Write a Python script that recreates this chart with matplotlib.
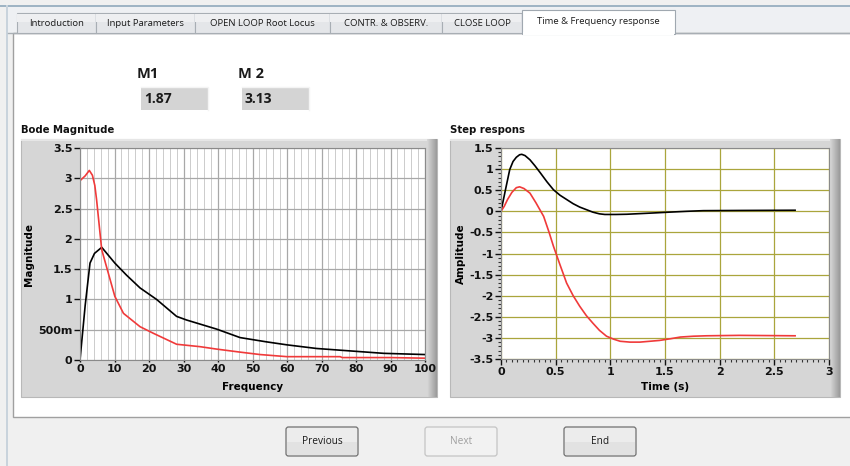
import numpy as np
import matplotlib
matplotlib.use("Agg")
import matplotlib.pyplot as plt
from matplotlib.patches import Rectangle, FancyBboxPatch
from matplotlib.ticker import MultipleLocator

plt.rcParams["font.family"] = ["DejaVu Sans"]

# ---- data ----
tab_names = ["Introduction", "Input Parameters", "OPEN LOOP Root Locus",
             "CONTR. & OBSERV.", "CLOSE LOOP", "Time & Frequency response"]
m_labels = ["M1", "M 2"]
m_values = ["1.87", "3.13"]
button_names = ["Previous", "Next", "End"]

bode_freq_black = [0, 1.5, 2.9, 4.2, 6.3, 10.1, 13.5, 17.4, 22.2, 28, 30.9,
                   39.6, 46.4, 54, 60, 68.6, 78.3, 88, 100]
bode_mag_black = [0, 0.9, 1.6, 1.76, 1.86, 1.6, 1.4, 1.19, 1.0, 0.72, 0.66,
                  0.51, 0.37, 0.30, 0.25, 0.19, 0.15, 0.11, 0.09]
bode_freq_red = [0, 1.5, 2.7, 3.6, 4.3, 4.8, 6.3, 10.1, 12.6, 17.4, 21.3, 28,
                 34.8, 39.6, 46.4, 52.2, 60, 75.4, 76, 90, 100]
bode_mag_red = [2.96, 3.04, 3.13, 3.05, 2.88, 2.65, 1.82, 1.05, 0.77, 0.55,
                0.44, 0.26, 0.22, 0.18, 0.13, 0.09, 0.055, 0.055, 0.04, 0.04,
                0.03]
bode_yticks = [0, 0.5, 1, 1.5, 2, 2.5, 3, 3.5]
bode_yticklabels = ["0", "500m", "1", "1.5", "2", "2.5", "3", "3.5"]
bode_xticks = [0, 10, 20, 30, 40, 50, 60, 70, 80, 90, 100]

step_t_black = [0, 0.04, 0.08, 0.11, 0.14, 0.17, 0.19, 0.22, 0.265, 0.31,
                0.36, 0.42, 0.48, 0.54, 0.6, 0.66, 0.72, 0.78, 0.84, 0.9,
                0.95, 1.05, 1.15, 1.27, 1.39, 1.54, 1.7, 1.85, 2.2, 2.69]
step_y_black = [0, 0.5, 0.99, 1.18, 1.28, 1.34, 1.35, 1.32, 1.22, 1.08,
                0.91, 0.7, 0.51, 0.38, 0.28, 0.18, 0.10, 0.04, -0.02, -0.06,
                -0.075, -0.075, -0.07, -0.055, -0.04, -0.02, 0.0, 0.015,
                0.02, 0.025]
step_t_red = [0, 0.03, 0.06, 0.1, 0.14, 0.17, 0.21, 0.265, 0.32, 0.39, 0.44,
              0.48, 0.54, 0.6, 0.66, 0.72, 0.78, 0.84, 0.9, 0.965, 1.03,
              1.09, 1.18, 1.27, 1.36, 1.45, 1.55, 1.64, 1.76, 1.88, 2.18,
              2.69]
step_y_red = [0, 0.12, 0.28, 0.45, 0.56, 0.58, 0.54, 0.43, 0.2, -0.12, -0.5,
              -0.83, -1.27, -1.7, -2.0, -2.25, -2.47, -2.65, -2.82, -2.96,
              -3.03, -3.08, -3.1, -3.1, -3.08, -3.06, -3.02, -2.98, -2.96,
              -2.95, -2.94, -2.95]
step_yticks = [1.5, 1, 0.5, 0, -0.5, -1, -1.5, -2, -2.5, -3, -3.5]
step_xticks = [0, 0.5, 1, 1.5, 2, 2.5, 3]

W, H = 850, 466
GUI_FONT = ["Open Sans", "DejaVu Sans"]
RED = "#f03a3a"

fig = plt.figure(figsize=(W / 100, H / 100), dpi=100)
fig.patch.set_facecolor("white")

# background "window" drawn in pixel coordinates
bg = fig.add_axes([0, 0, 1, 1], zorder=0)
bg.set_xlim(0, W)
bg.set_ylim(H, 0)
bg.axis("off")


def rect(x0, y0, x1, y1, fc, ec="none", lw=0, z=1):
    bg.add_patch(Rectangle((x0, y0), x1 - x0, y1 - y0, facecolor=fc,
                           edgecolor=ec, linewidth=lw, zorder=z))


rect(0, 0, W, H, "#f0f0f0")
rect(0, 5, W, 7, "#9fb4c4")
rect(7, 7, W, 33, "#eef0f3")
rect(6, 5, 8, H, "#c9d3dc")
rect(13, 33, W + 2, 417, "white", ec="#a0a0a0", lw=1)
bg.plot([8, W], [32.5, 32.5], color="#a8aeb4", lw=1, zorder=2)

# tabs
tab_edges = [17, 96, 195, 330, 442, 522, 675]
for i, name in enumerate(tab_names):
    x0, x1 = tab_edges[i], tab_edges[i + 1]
    if i == len(tab_names) - 1:
        rect(x0, 10, x1, 33.5, "white", ec="#a0a8b0", lw=0.8, z=3)
        rect(x0 + 0.6, 32, x1 - 0.6, 34.5, "white", z=4)
        ty = 21
    else:
        rect(x0, 13, x1, 32.5, "#e4e6e9", ec="#a8aeb4", lw=0.8, z=2)
        rect(x0 + 0.5, 13.5, x1 - 0.5, 22, "#eeeff1", z=2)
        ty = 23
    bg.text((x0 + x1) / 2, ty, name, ha="center", va="center", fontsize=6.8,
            family=GUI_FONT, color="#1a1a1a", zorder=5)

# M1 / M2 indicators
for lab, val, bx in zip(m_labels, m_values, [141, 242]):
    bg.text(bx - 4, 74, lab, ha="left", va="center", fontsize=10.5,
            family=GUI_FONT, fontweight="bold", color="#1a1a1a", zorder=5)
    rect(bx, 87, bx + 67, 110, "#d4d4d4", z=3)
    bg.plot([bx, bx + 67, bx + 67], [87, 87, 110], color="#f4f4f4", lw=1,
            zorder=4)
    bg.text(bx + 3, 99, val, ha="left", va="center", fontsize=10,
            family=GUI_FONT, fontweight="bold", color="#1a1a1a", zorder=5)


# chart frames with a shaded right edge
def frame(x0, y0, x1, y1, title):
    rect(x0, y0, x1, y1, "#d6d6d6", ec="#b8b8b8", lw=0.8, z=2)
    rect(x0, y0, x1, y0 + 2, "#e6e6e6", z=2)
    grad = np.linspace(0, 1, 40).reshape(1, -1)
    bg.imshow(grad, extent=(x1 - 10, x1, y1, y0), aspect="auto",
              cmap=matplotlib.colors.LinearSegmentedColormap.from_list(
                  "sh", ["#d8d8d8", "#9a9a9a"]), zorder=2.5)
    bg.text(x0, y0 - 9, title, ha="left", va="center", fontsize=7.3,
            fontweight="bold", color="#111111", zorder=5)


frame(21, 139, 437, 397, "Bode Magnitude")
frame(450, 139, 840, 397, "Step respons")
bg.set_xlim(0, W)
bg.set_ylim(H, 0)

# buttons
for name, bx in zip(button_names, [286, 425, 564]):
    disabled = name == "Next"
    bg.add_patch(FancyBboxPatch((bx, 427), 72, 29,
                                boxstyle="round,pad=0,rounding_size=2.5",
                                facecolor="#ececec" if not disabled else "#f2f2f2",
                                edgecolor="#c4c4c4" if disabled else "#707070",
                                linewidth=0.9, zorder=3))
    if not disabled:
        rect(bx + 1, 442, bx + 71, 455, "#e2e2e2", z=3.5)
    bg.text(bx + 36, 441.5, name, ha="center", va="center", fontsize=7.3,
            family=GUI_FONT, color="#a0a0a0" if disabled else "#1a1a1a",
            zorder=5)


def axes_px(x0, y0, x1, y1):
    return fig.add_axes([x0 / W, (H - y1) / H, (x1 - x0) / W, (y1 - y0) / H],
                        zorder=3)


tick_kw = dict(labelsize=8, colors="#111111", width=1)

# Bode magnitude
ax1 = axes_px(80, 148, 425, 360)
ax1.set_facecolor("white")
ax1.plot(bode_freq_black, bode_mag_black, color="black", lw=1.2)
ax1.plot(bode_freq_red, bode_mag_red, color=RED, lw=1.2)
ax1.set_xlim(0, 100)
ax1.set_ylim(0, 3.5)
ax1.set_xticks(bode_xticks)
ax1.set_yticks(bode_yticks, bode_yticklabels)
ax1.xaxis.set_minor_locator(MultipleLocator(2))
ax1.grid(which="major", color="#a8a8a8", lw=0.9)
ax1.grid(which="minor", axis="x", color="#cccccc", lw=0.7)
ax1.set_axisbelow(True)
ax1.tick_params(axis="y", which="major", length=4, pad=1.5, **tick_kw)
ax1.tick_params(axis="x", which="major", length=1.5, pad=1.5, **tick_kw)
ax1.tick_params(which="minor", length=0)
for lab in ax1.get_xticklabels() + ax1.get_yticklabels():
    lab.set_fontweight("bold")
ax1.set_xlabel("Frequency", fontsize=7.5, fontweight="bold", labelpad=6)
ax1.set_ylabel("Magnitude", fontsize=7.5, fontweight="bold", labelpad=3)
for s in ax1.spines.values():
    s.set_color("#8a8a8a")
    s.set_linewidth(0.8)

# Step response
ax2 = axes_px(501, 148, 829, 359)
ax2.set_facecolor("white")
ax2.plot(step_t_black, step_y_black, color="black", lw=1.2)
ax2.plot(step_t_red, step_y_red, color=RED, lw=1.2)
ax2.set_xlim(0, 3)
ax2.set_ylim(-3.5, 1.5)
ax2.set_xticks(step_xticks, [f"{v:g}" for v in step_xticks])
ax2.set_yticks(step_yticks, [f"{v:g}" for v in step_yticks])
ax2.xaxis.set_minor_locator(MultipleLocator(0.05))
ax2.yaxis.set_minor_locator(MultipleLocator(0.1))
ax2.grid(which="major", color="#aaa53c", lw=0.9)
ax2.set_axisbelow(True)
ax2.tick_params(which="major", length=4, pad=1.5, **tick_kw)
ax2.tick_params(which="minor", length=2, width=0.8, colors="#333333")
for lab in ax2.get_xticklabels() + ax2.get_yticklabels():
    lab.set_fontweight("bold")
ax2.set_xlabel("Time (s)", fontsize=7.5, fontweight="bold", labelpad=4)
ax2.set_ylabel("Amplitude", fontsize=7.5, fontweight="bold", labelpad=2)
for s in ax2.spines.values():
    s.set_color("#8a8a8a")
    s.set_linewidth(0.8)

fig.savefig("out.png", dpi=100)
